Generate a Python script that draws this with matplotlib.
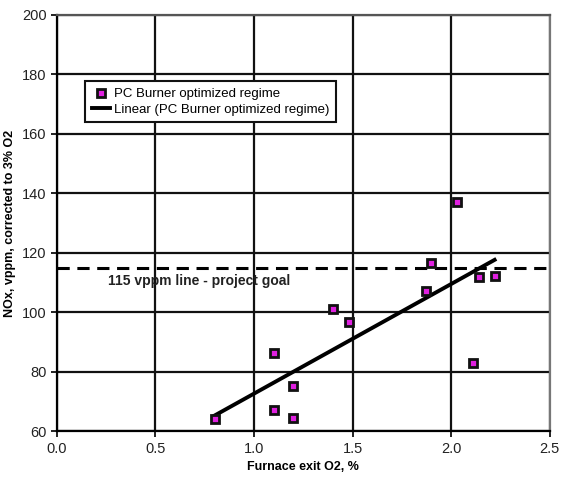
import numpy as np
import matplotlib
matplotlib.use('Agg')
import matplotlib.pyplot as plt

plt.rcParams['font.family'] = ['Liberation Sans', 'DejaVu Sans']

# PC burner optimized regime measurements
o2 = [0.80, 1.10, 1.10, 1.20, 1.20, 1.40, 1.48, 1.87, 1.90, 2.03, 2.14, 2.22, 2.11]
nox = [64.0, 86.3, 67.1, 75.1, 64.4, 101.1, 96.7, 107.1, 116.5, 137.1, 111.8, 112.2, 82.9]
goal = 115

fig = plt.figure(figsize=(5.68, 4.79), dpi=100)
ax = fig.add_axes([0.100, 0.100, 0.868, 0.869])

ax.plot(o2, nox, linestyle='none', marker='s', markersize=5.8,
        markerfacecolor='#e020e0', markeredgecolor='#111111', markeredgewidth=2.0,
        label='PC Burner optimized regime', zorder=4)

# linear trend
k, b = np.polyfit(o2, nox, 1)
xs = np.array([min(o2), max(o2)])
ax.plot(xs, k * xs + b, color='black', linewidth=2.8,
        label='Linear (PC Burner optimized regime)', zorder=3)

ax.axhline(goal, color='black', linestyle=(0, (4, 2.5)), linewidth=2.2, zorder=3)
ax.text(0.26, 110.5, '115 vppm line - project goal', fontsize=10, fontweight='bold',
        va='center', ha='left', color='#222222')

ax.set_xlim(0, 2.5)
ax.set_ylim(60, 200)
ax.set_xticks(np.arange(0, 2.51, 0.5))
ax.set_yticks(np.arange(60, 201, 20))
ax.set_xticklabels(['%.1f' % v for v in np.arange(0, 2.51, 0.5)])
ax.grid(True, color='#111111', linewidth=1.6)
ax.set_axisbelow(True)
ax.tick_params(direction='out', length=4, width=1.4, labelsize=10.5, colors='#222222')
for s in ax.spines.values():
    s.set_linewidth(1.6)
ax.spines['right'].set_color('#777777')
ax.spines['top'].set_color('#555555')

ax.set_xlabel('Furnace exit O2, %', fontsize=9, fontweight='bold', labelpad=4)
ax.set_ylabel('NOx, vppm, corrected to 3% O2', fontsize=9, fontweight='bold', labelpad=4)

leg = ax.legend(loc='upper left', bbox_to_anchor=(0.058, 0.84), fontsize=9.5,
                fancybox=False, framealpha=1, edgecolor='#111111', borderpad=0.5,
                handlelength=1.4, handletextpad=0.3, labelspacing=0.25,
                borderaxespad=0)
leg.get_frame().set_linewidth(1.5)

fig.savefig('out.png', dpi=100)
